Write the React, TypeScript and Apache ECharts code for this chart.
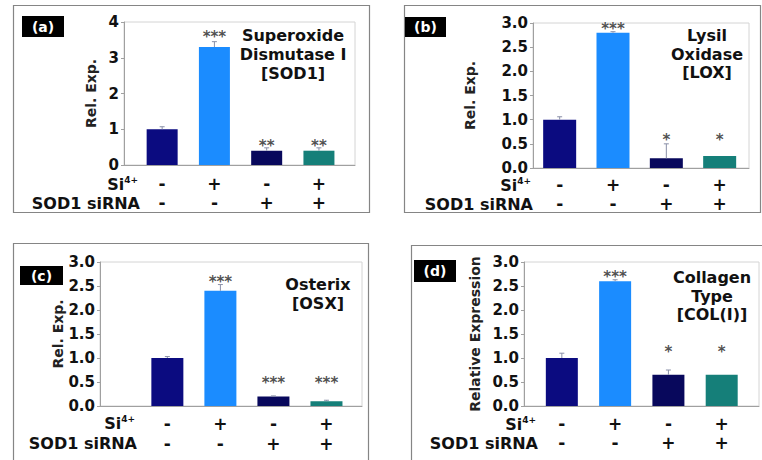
import React, { useEffect, useRef } from 'react';
import * as echarts from 'echarts';

// ---- data ----
const categories = ['Control', 'Si4+', 'SOD1 siRNA', 'Si4+ + SOD1 siRNA'];
const siRow = ['-', '+', '-', '+'];
const sodRow = ['-', '-', '+', '+'];
const barColors = ['#0b0b80', '#1b8cff', '#08085c', '#157f79'];

const sodValues = [1.0, 3.3, 0.4, 0.4];
const sodErrors = [0.07, 0.15, 0.08, 0.08];
const sodStars = ['', '***', '**', '**'];
const sodStarLevels = [0, 3.69, 0.64, 0.64];

const loxValues = [1.0, 2.8, 0.2, 0.25];
const loxErrors = [0.06, 0.02, 0.3, 0.0];
const loxStars = ['', '***', '*', '*'];
const loxStarLevels = [0, 2.96, 0.66, 0.66];

const osxValues = [1.0, 2.4, 0.2, 0.1];
const osxErrors = [0.03, 0.13, 0.01, 0.02];
const osxStars = ['', '***', '***', '***'];
const osxStarLevels = [0, 2.67, 0.56, 0.56];

const colValues = [1.0, 2.6, 0.65, 0.65];
const colErrors = [0.1, 0.03, 0.1, 0.0];
const colStars = ['', '***', '*', '*'];
const colStarLevels = [0, 2.77, 1.21, 1.21];

const titles = ['Superoxide\nDismutase I\n[SOD1]', 'Lysil\nOxidase\n[LOX]', 'Osterix\n[OSX]', 'Collagen\nType\n[COL(I)]'];
const panelTags = ['(a)', '(b)', '(c)', '(d)'];
const yNames = ['Rel. Exp.', 'Rel. Exp.', 'Rel. Exp.', 'Relative Expression'];
const yMax = [4, 3, 3, 3];
const yInterval = [1, 0.5, 0.5, 0.5];

// ---- layout (page pixels) ----
const FONT = '"DejaVu Sans", sans-serif';
const layout = [
  { grid: { left: 124, top: 22, width: 231, height: 143 }, xMin: -0.73, xMax: 3.69, barW: 31, nameGap: 26,
    border: { x: 13.5, y: 5.5, width: 356, height: 207 }, tag: { x: 22, y: 16, w: 42, h: 21 },
    title: { x: 293, y: 54, lh: 19 }, rowRight: 140, rowY: [184, 203], labelMargin: 9, rowLh: 19 },
  { grid: { left: 533, top: 23, width: 216, height: 145 }, xMin: -0.5, xMax: 3.55, barW: 33, nameGap: 56,
    border: { x: 404.5, y: 5.5, width: 356, height: 207 }, tag: { x: 405, y: 17, w: 41, h: 20 },
    title: { x: 707, y: 54, lh: 18.5 }, rowRight: 533, rowY: [185, 204], labelMargin: 7, rowLh: 19 },
  { grid: { left: 100, top: 262, width: 262, height: 144 }, xMin: -1.27, xMax: 3.67, barW: 32, nameGap: 28,
    border: { x: 13.5, y: 243.5, width: 355, height: 240 }, tag: { x: 20, y: 266, w: 43, h: 19 },
    title: { x: 318, y: 294, lh: 18.5 }, rowRight: 137, rowY: [423, 443], labelMargin: 7.5, rowLh: 20 },
  { grid: { left: 524, top: 262, width: 235, height: 144 }, xMin: -0.71, xMax: 3.7, barW: 32, nameGap: 42,
    border: { x: 411.5, y: 245.5, width: 360, height: 240 }, tag: { x: 414, y: 260, w: 42, h: 22 },
    title: { x: 712, y: 296, lh: 18.5 }, rowRight: 538, rowY: [424.5, 443], labelMargin: 8.5, rowLh: 19 },
];

const panelsData = [
  { values: sodValues, errors: sodErrors, stars: sodStars, starLevels: sodStarLevels },
  { values: loxValues, errors: loxErrors, stars: loxStars, starLevels: loxStarLevels },
  { values: osxValues, errors: osxErrors, stars: osxStars, starLevels: osxStarLevels },
  { values: colValues, errors: colErrors, stars: colStars, starLevels: colStarLevels },
];

function buildOption() {
  const grids: any[] = [];
  const xAxes: any[] = [];
  const yAxes: any[] = [];
  const series: any[] = [];
  const graphics: any[] = [];

  panelsData.forEach((p, k) => {
    const L = layout[k];
    grids.push({ ...L.grid, show: true, borderColor: '#d4d4d4', borderWidth: 1, backgroundColor: 'transparent' });
    xAxes.push({
      type: 'value', gridIndex: k, min: L.xMin, max: L.xMax,
      splitLine: { show: false },
      axisLine: { show: true, onZero: false, lineStyle: { color: '#a0a0a0', width: 1 } },
      axisTick: { show: false },
      axisLabel: {
        customValues: [0, 1, 2, 3],
        formatter: (v: number) => {
          const i = Math.round(v);
          return siRow[i] + '\n' + sodRow[i];
        },
        margin: L.labelMargin, lineHeight: L.rowLh,
        fontFamily: FONT, fontWeight: 'bold', fontSize: 17, color: '#111',
      },
    });
    yAxes.push({
      type: 'value', gridIndex: k, min: 0, max: yMax[k], interval: yInterval[k],
      name: yNames[k], nameLocation: 'middle', nameGap: L.nameGap, nameRotate: 90,
      nameTextStyle: { fontFamily: FONT, fontWeight: 'bold', fontSize: 14, color: '#222' },
      splitLine: { show: false },
      axisLine: { show: true, onZero: false, lineStyle: { color: '#a0a0a0', width: 1 } },
      axisTick: { show: true, length: 3, lineStyle: { color: '#a0a0a0' } },
      axisLabel: {
        formatter: (v: number) => (yInterval[k] < 1 ? v.toFixed(1) : String(v)),
        fontFamily: FONT, fontWeight: 'bold', fontSize: 15, color: '#111', margin: 5,
      },
    });

    series.push({
      type: 'bar', xAxisIndex: k, yAxisIndex: k, barWidth: L.barW,
      data: p.values.map((v, i) => ({ value: [i, v], name: categories[i], itemStyle: { color: barColors[i] } })),
      z: 2,
    });
    series.push({
      type: 'custom', xAxisIndex: k, yAxisIndex: k, z: 3,
      data: p.values.map((v, i) => [i, v, p.errors[i]]),
      encode: { x: 0, y: 1 },
      renderItem: (params: any, api: any) => {
        const x = api.value(0);
        const y = api.value(1);
        const e = api.value(2);
        if (!e) return null;
        const base = api.coord([x, y]);
        const top = api.coord([x, y + e]);
        const st = { stroke: '#8a90a8', lineWidth: 1 };
        return {
          type: 'group',
          children: [
            { type: 'line', shape: { x1: base[0], y1: base[1], x2: top[0], y2: top[1] }, style: st },
            { type: 'line', shape: { x1: top[0] - 2.5, y1: top[1], x2: top[0] + 2.5, y2: top[1] }, style: st },
          ],
        };
      },
    });
    const starItems: any[] = [];
    p.stars.forEach((s, i) => {
      if (s) starItems.push({ value: [i, p.starLevels[i]], label: { formatter: s } });
    });
    series.push({
      type: 'scatter', xAxisIndex: k, yAxisIndex: k, z: 4,
      symbol: 'circle', symbolSize: 2, itemStyle: { color: 'rgba(0,0,0,0)' },
      data: starItems,
      label: {
        show: true, position: 'inside', offset: [0, 4],
        fontFamily: FONT, fontWeight: 'bold', fontSize: 15, color: '#222',
      },
    });

    // panel frame
    graphics.push({ type: 'rect', shape: L.border, style: { fill: 'none', stroke: '#858585', lineWidth: 1.2 }, silent: true });
    // tag box
    graphics.push({ type: 'rect', shape: { x: L.tag.x, y: L.tag.y, width: L.tag.w, height: L.tag.h }, style: { fill: '#000' } });
    graphics.push({
      type: 'text', x: L.tag.x + L.tag.w / 2, y: L.tag.y + L.tag.h / 2,
      style: { text: panelTags[k], fill: '#fff', font: `bold 14px ${FONT}`, align: 'center', verticalAlign: 'middle' },
    });
    // title
    graphics.push({
      type: 'text', x: L.title.x, y: L.title.y,
      style: { text: titles[k], fill: '#111', font: `bold 16px ${FONT}`, align: 'center', verticalAlign: 'middle', lineHeight: L.title.lh },
    });
    // row labels
    graphics.push({
      type: 'text', x: L.rowRight - 2, y: L.rowY[0],
      style: {
        text: '{b|Si}{s|4+}', align: 'right', verticalAlign: 'middle', fill: '#111',
        rich: {
          b: { font: `bold 16px ${FONT}`, fill: '#111', lineHeight: 18 },
          s: { font: `bold 9px ${FONT}`, fill: '#111', verticalAlign: 'top', lineHeight: 18, padding: [0, 0, 6, 0] },
        },
      },
    });
    graphics.push({
      type: 'text', x: L.rowRight, y: L.rowY[1],
      style: { text: 'SOD1 siRNA', fill: '#111', font: `bold 16px ${FONT}`, align: 'right', verticalAlign: 'middle' },
    });
  });

  return {
    animation: false,
    backgroundColor: '#ffffff',
    grid: grids,
    xAxis: xAxes,
    yAxis: yAxes,
    series,
    graphic: graphics,
  };
}

export default function App() {
  const ref = useRef<HTMLDivElement>(null);
  useEffect(() => {
    if (!ref.current) return;
    const chart = echarts.init(ref.current, undefined, { renderer: 'svg' });
    chart.setOption(buildOption() as any);
    return () => chart.dispose();
  }, []);
  return (
    <div
      ref={ref}
      style={{ position: 'absolute', left: 0, top: 0, width: 762, height: 460, background: '#fff' }}
    />
  );
}
